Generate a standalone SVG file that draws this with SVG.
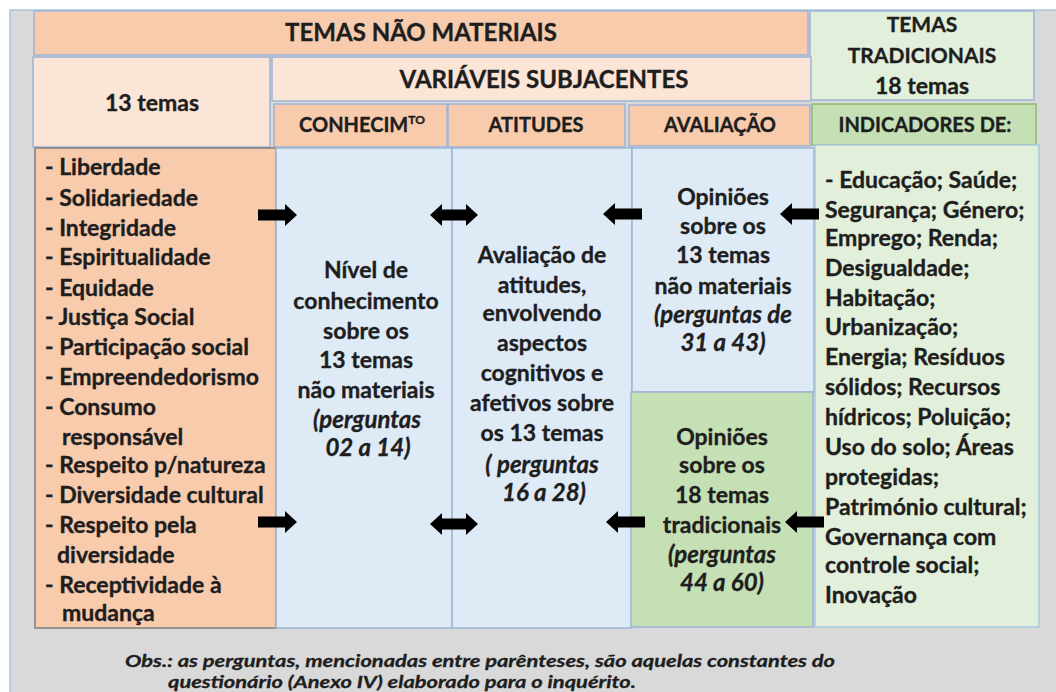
<svg xmlns="http://www.w3.org/2000/svg" width="1056" height="692" viewBox="0 0 1056 692">
<style>
.t{font-family:Lato,"Liberation Sans",sans-serif;font-weight:bold;fill:#1e1e1e;font-size:23px;stroke:#1e1e1e;stroke-width:0.35px}
.h{font-size:24px}
.s{font-size:21px}
.ch{font-size:20px}
.c{text-anchor:middle}
.i{font-style:italic;font-size:24px}
.bx{stroke:#9db5d3;stroke-width:1.5}
.or{fill:#f8cbad}
.lo{fill:#fbe5d6}
.bl{fill:#deebf7}
.lg{fill:#e2efda}
.gr{fill:#c5e0b4}
.arr{fill:#000}
.foot{font-family:Lato,"Liberation Sans",sans-serif;font-weight:bold;font-style:italic;font-size:17px;fill:#1e1e1e;stroke:#1e1e1e;stroke-width:0.3px}
</style>
<defs>
<path id="arrR" d="M0,-5.5 H27 V-11 L39,0 L27,11 V5.5 H0 Z"/>
<path id="arrD" d="M0,0 L12,-11 V-5.5 H36 V-11 L48,0 L36,11 V5.5 H12 V11 Z"/>
</defs>
<rect x="0" y="0" width="1056" height="692" fill="#ffffff"/>
<rect x="10" y="10" width="1050" height="690" fill="#d9d9d9" stroke="#aac3de" stroke-width="1.5"/>

<g id="temas-nao-materiais">
<rect class="bx or" x="34" y="11" width="774" height="44"/>
<text class="t h c" x="421" y="41">TEMAS NÃO MATERIAIS</text>
</g>
<g id="temas-tradicionais">
<rect class="bx lg" x="810" y="11" width="224" height="89"/>
<text class="t s c" x="922" y="32">TEMAS</text>
<text class="t s c" x="922" y="63">TRADICIONAIS</text>
<text class="t c" x="922" y="94">18 temas</text>
</g>
<g id="treze-temas">
<rect class="bx lo" x="33" y="57" width="237" height="90"/>
<text class="t c" x="152" y="111">13 temas</text>
</g>
<g id="variaveis-subjacentes">
<rect class="bx lo" x="272" y="57" width="539" height="44"/>
<text class="t h c" x="544" y="88">VARIÁVEIS SUBJACENTES</text>
</g>
<g id="conhecimento-header">
<rect class="bx or" x="274" y="104" width="173" height="43"/>
<text class="t ch c" x="362" y="132">CONHECIM<tspan font-size="12" dy="-8">TO</tspan></text>
</g>
<g id="atitudes-header">
<rect class="bx or" x="448" y="104" width="177" height="43"/>
<text class="t ch c" x="536" y="132">ATITUDES</text>
</g>
<g id="avaliacao-header">
<rect class="bx or" x="629" y="105" width="181" height="41"/>
<text class="t ch c" x="720" y="132">AVALIAÇÃO</text>
</g>
<g id="indicadores-header">
<rect class="gr" x="812" y="104" width="224" height="41" stroke="#8fbc70" stroke-width="1.5"/>
<text class="t ch c" x="925" y="132">INDICADORES DE:</text>
</g>

<g id="lista-temas">
<rect class="or" x="35" y="148" width="241" height="480" stroke="#7f7f7f" stroke-width="1.5"/>
<text class="t" x="45" y="175">- Liberdade</text>
<text class="t" x="45" y="206">- Solidariedade</text>
<text class="t" x="45" y="236">- Integridade</text>
<text class="t" x="45" y="265">- Espiritualidade</text>
<text class="t" x="45" y="296">- Equidade</text>
<text class="t" x="45" y="325">- Justiça Social</text>
<text class="t" x="45" y="355">- Participação social</text>
<text class="t" x="45" y="385">- Empreendedorismo</text>
<text class="t" x="45" y="415">- Consumo</text>
<text class="t" x="62" y="445">responsável</text>
<text class="t" x="45" y="473">- Respeito p/natureza</text>
<text class="t" x="45" y="503">- Diversidade cultural</text>
<text class="t" x="45" y="533">- Respeito pela</text>
<text class="t" x="57" y="563">diversidade</text>
<text class="t" x="45" y="593">- Receptividade à</text>
<text class="t" x="62" y="621">mudança</text>
</g>
<g id="conhecimento">
<rect class="bx bl" x="276" y="148" width="176" height="480"/>
<text class="t c" x="366" y="278">Nível de</text>
<text class="t c" x="366" y="309">conhecimento</text>
<text class="t c" x="366" y="339">sobre os</text>
<text class="t c" x="366" y="368">13 temas</text>
<text class="t c" x="366" y="398">não materiais</text>
<text class="t c i" x="367" y="428">(perguntas</text>
<text class="t c i" x="368" y="456">02 a 14)</text>
</g>
<g id="atitudes">
<rect class="bx bl" x="452" y="148" width="180" height="480"/>
<text class="t c" x="542" y="263">Avaliação de</text>
<text class="t c" x="542" y="293">atitudes,</text>
<text class="t c" x="542" y="321">envolvendo</text>
<text class="t c" x="542" y="351">aspectos</text>
<text class="t c" x="542" y="381">cognitivos e</text>
<text class="t c" x="542" y="411">afetivos sobre</text>
<text class="t c" x="542" y="441">os 13 temas</text>
<text class="t c i" x="542" y="473">( perguntas</text>
<text class="t c i" x="544" y="501">16 a 28)</text>
</g>
<g id="avaliacao-nao-materiais">
<rect class="bx bl" x="632" y="148" width="182" height="244"/>
<text class="t c" x="723" y="205">Opiniões</text>
<text class="t c" x="723" y="234">sobre os</text>
<text class="t c" x="723" y="263">13 temas</text>
<text class="t c" x="723" y="294">não materiais</text>
<text class="t c i" x="723" y="323">(perguntas de</text>
<text class="t c i" x="723" y="351">31 a 43)</text>
</g>
<g id="avaliacao-tradicionais">
<rect class="gr" x="631" y="392" width="182" height="235" stroke="#9db5d3" stroke-width="1.5"/>
<text class="t c" x="722" y="445">Opiniões</text>
<text class="t c" x="722" y="473">sobre os</text>
<text class="t c" x="722" y="503">18 temas</text>
<text class="t c" x="722" y="533">tradicionais</text>
<text class="t c i" x="722" y="563">(perguntas</text>
<text class="t c i" x="722" y="591">44 a 60)</text>
</g>
<g id="indicadores">
<rect class="lg" x="815" y="145" width="224" height="482" stroke="#a9c9e0" stroke-width="1.5"/>
<text class="t" x="825" y="188">- Educação; Saúde;</text>
<text class="t" x="825" y="218">Segurança; Género;</text>
<text class="t" x="825" y="246">Emprego; Renda;</text>
<text class="t" x="825" y="276">Desigualdade;</text>
<text class="t" x="825" y="306">Habitação;</text>
<text class="t" x="825" y="335">Urbanização;</text>
<text class="t" x="825" y="365">Energia; Resíduos</text>
<text class="t" x="825" y="395">sólidos; Recursos</text>
<text class="t" x="825" y="425">hídricos; Poluição;</text>
<text class="t" x="825" y="455">Uso do solo; Áreas</text>
<text class="t" x="825" y="485">protegidas;</text>
<text class="t" x="825" y="515">Património cultural;</text>
<text class="t" x="825" y="545">Governança com</text>
<text class="t" x="825" y="573">controle social;</text>
<text class="t" x="825" y="603">Inovação</text>
</g>

<g id="connectors" class="arr">
<use href="#arrR" transform="translate(258,215)"/>
<use href="#arrD" transform="translate(430,215)"/>
<use href="#arrR" transform="translate(642,214) scale(-1,1)"/>
<use href="#arrR" transform="translate(819,214) scale(-1,1)"/>
<use href="#arrR" transform="translate(258,522)"/>
<use href="#arrD" transform="translate(430,524)"/>
<use href="#arrR" transform="translate(645,522) scale(-1,1)"/>
<use href="#arrR" transform="translate(824,522) scale(-1,1)"/>
</g>

<g id="observacao">
<text class="foot" x="125" y="667" textLength="710" lengthAdjust="spacingAndGlyphs">Obs.: as perguntas, mencionadas entre parênteses, são aquelas constantes do</text>
<text class="foot" x="168" y="688" textLength="468" lengthAdjust="spacingAndGlyphs">questionário (Anexo IV) elaborado para o inquérito.</text>
</g>
</svg>
